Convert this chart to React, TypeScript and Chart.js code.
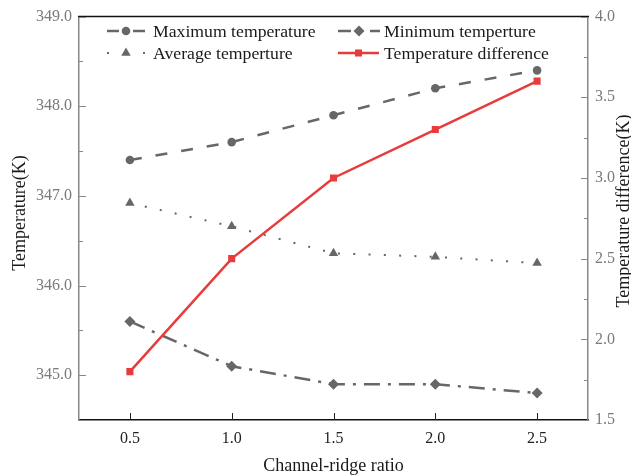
import React, { useEffect, useRef } from 'react';
import { Chart, registerables } from 'chart.js';

Chart.register(...registerables);

// ---- data ----
const ratios = [0.5, 1.0, 1.5, 2.0, 2.5];
const maxTemp = [347.4, 347.6, 347.9, 348.2, 348.4];
const minTemp = [345.6, 345.1, 344.9, 344.9, 344.8];
const avgTemp = [346.92, 346.66, 346.36, 346.32, 346.25];
const tempDiff = [1.8, 2.5, 3.0, 3.3, 3.6];

const seriesLabels = ['Maximum temperature', 'Minimum temperture', 'Average temperture', 'Temperature difference'];

const xTicks = [0.5, 1.0, 1.5, 2.0, 2.5];
const leftTicks = [345, 346, 347, 348, 349];
const leftMinorTicks = [344.5, 345.5, 346.5, 347.5, 348.5];
const rightTicks = [1.5, 2.0, 2.5, 3.0, 3.5, 4.0];
const rightMinorTicks = [1.75, 2.25, 2.75, 3.25, 3.75];

const xTitle = 'Channel-ridge ratio';
const yTitle = 'Temperature(K)';
const y1Title = 'Temperature difference(K)';

const FONT = '"Liberation Serif", "Times New Roman", serif';
const GRAY = '#676767';
const RED = '#e83b3b';

const toPts = (ys: number[]) => ratios.map((x, i) => ({ x, y: ys[i] }));

function drawMarker(ctx: CanvasRenderingContext2D, style: string, x: number, y: number, r: number, color: string) {
  ctx.save();
  ctx.fillStyle = color;
  ctx.beginPath();
  if (style === 'circle') {
    ctx.arc(x, y, r, 0, Math.PI * 2);
  } else if (style === 'rectRot') {
    ctx.moveTo(x, y - r);
    ctx.lineTo(x + r, y);
    ctx.lineTo(x, y + r);
    ctx.lineTo(x - r, y);
    ctx.closePath();
  } else if (style === 'triangle') {
    ctx.moveTo(x, y - r);
    ctx.lineTo(x + r * 0.866, y + r * 0.5);
    ctx.lineTo(x - r * 0.866, y + r * 0.5);
    ctx.closePath();
  } else {
    const s = r * 0.7071;
    ctx.rect(x - s, y - s, 2 * s, 2 * s);
  }
  ctx.fill();
  ctx.restore();
}

const decorPlugin = {
  id: 'decor',
  afterDraw(chart: any) {
    const { ctx, chartArea } = chart;
    const xs = chart.scales.x;
    const ys = chart.scales.y;
    const y1s = chart.scales.y1;
    const { left, right, top, bottom } = chartArea;
    ctx.save();

    // top border
    ctx.strokeStyle = '#111';
    ctx.lineWidth = 1.5;
    ctx.beginPath();
    ctx.moveTo(left - 1, top);
    ctx.lineTo(right + 1, top);
    ctx.stroke();

    // inward ticks
    ctx.lineWidth = 1;
    ctx.strokeStyle = '#888';
    const yTick = (vals: number[], len: number, scale: any, x0: number, dir: number) => {
      vals.forEach((v) => {
        const py = Math.round(scale.getPixelForValue(v)) + 0.5;
        ctx.beginPath();
        ctx.moveTo(x0, py);
        ctx.lineTo(x0 + dir * len, py);
        ctx.stroke();
      });
    };
    yTick(leftTicks, 7, ys, left, 1);
    yTick(leftMinorTicks, 4, ys, left, 1);
    yTick(rightTicks, 7, y1s, right, -1);
    yTick(rightMinorTicks, 4, y1s, right, -1);
    ctx.strokeStyle = '#222';
    xTicks.forEach((v) => {
      const px = Math.round(xs.getPixelForValue(v)) + 0.5;
      ctx.beginPath();
      ctx.moveTo(px, bottom);
      ctx.lineTo(px, bottom - 7);
      ctx.stroke();
    });

    // titles
    ctx.fillStyle = '#1a1a1a';
    ctx.font = `18px ${FONT}`;
    ctx.textAlign = 'center';
    ctx.textBaseline = 'middle';
    ctx.fillText(xTitle, (left + right) / 2, 466);
    ctx.save();
    ctx.translate(20, 213);
    ctx.rotate(-Math.PI / 2);
    ctx.fillText(yTitle, 0, 0);
    ctx.restore();
    ctx.save();
    ctx.translate(624, 211);
    ctx.rotate(-Math.PI / 2);
    ctx.fillText(y1Title, 0, 0);
    ctx.restore();

    // legend
    const items = [
      { ds: 0, col: 0, row: 0, x0: 107, x1: 145, dash: [12, 14] },
      { ds: 1, col: 1, row: 0, x0: 338, x1: 380, dash: [13, 19] },
      { ds: 2, col: 0, row: 1, x0: 107, x1: 145, dash: [2, 34] },
      { ds: 3, col: 1, row: 1, x0: 338, x1: 379, dash: [] },
    ];
    const rowY = [31, 53];
    const textX = [153, 384];
    ctx.font = `17.7px ${FONT}`;
    ctx.textAlign = 'left';
    ctx.textBaseline = 'middle';
    items.forEach((it) => {
      const d = chart.data.datasets[it.ds];
      const y = rowY[it.row];
      ctx.save();
      ctx.strokeStyle = d.borderColor;
      ctx.lineWidth = d.borderWidth;
      ctx.setLineDash(it.dash);
      ctx.beginPath();
      ctx.moveTo(it.x0, y);
      ctx.lineTo(it.x1, y);
      ctx.stroke();
      ctx.restore();
      drawMarker(ctx, d.pointStyle, (it.x0 + it.x1) / 2, y, d.pointRadius, d.pointBackgroundColor);
      ctx.fillStyle = '#1a1a1a';
      ctx.fillText(seriesLabels[it.ds], textX[it.col], y + 1);
    });

    ctx.restore();
  },
};

export default function App() {
  const ref = useRef<HTMLCanvasElement | null>(null);

  useEffect(() => {
    if (!ref.current) return;
    const tickFont = { family: FONT, size: 16 };
    const chart = new Chart(ref.current, {
      type: 'line',
      data: {
        datasets: [
          {
            label: seriesLabels[0],
            data: toPts(maxTemp),
            yAxisID: 'y',
            borderColor: GRAY,
            borderWidth: 2.5,
            borderDash: [12, 14],
            pointStyle: 'circle',
            pointRadius: 4.3,
            pointBackgroundColor: GRAY,
            pointBorderWidth: 0,
          },
          {
            label: seriesLabels[1],
            data: toPts(minTemp),
            yAxisID: 'y',
            borderColor: GRAY,
            borderWidth: 2.5,
            borderDash: [16, 8, 3, 8],
            pointStyle: 'rectRot',
            pointRadius: 5.5,
            pointBackgroundColor: GRAY,
            pointBorderWidth: 0,
          },
          {
            label: seriesLabels[2],
            data: toPts(avgTemp),
            yAxisID: 'y',
            borderColor: GRAY,
            borderWidth: 2,
            borderDash: [2, 13.3],
            pointStyle: 'triangle',
            pointRadius: 5.5,
            pointBackgroundColor: GRAY,
            pointBorderWidth: 0,
          },
          {
            label: seriesLabels[3],
            data: toPts(tempDiff),
            yAxisID: 'y1',
            borderColor: RED,
            borderWidth: 2.5,
            pointStyle: 'rect',
            pointRadius: 5,
            pointBackgroundColor: RED,
            pointBorderWidth: 0,
            order: -1,
          },
        ] as any,
      },
      options: {
        animation: false,
        responsive: false,
        layout: { padding: { top: 16, left: 0, right: 0, bottom: 0 } },
        plugins: { legend: { display: false }, tooltip: { enabled: false } },
        scales: {
          x: {
            type: 'linear',
            position: 'bottom',
            min: 0.25,
            max: 2.75,
            afterBuildTicks: (s: any) => { s.ticks = xTicks.map((v) => ({ value: v })); },
            afterFit: (s: any) => { s.height = 56; },
            ticks: { font: tickFont, color: '#222', padding: 9, maxRotation: 0, callback: (v: any) => Number(v).toFixed(1) },
            grid: { display: false, drawTicks: false },
            border: { color: '#111', width: 1.5 },
          },
          y: {
            type: 'linear',
            position: 'left',
            min: 344.5,
            max: 349,
            afterBuildTicks: (s: any) => { s.ticks = leftTicks.map((v) => ({ value: v })); },
            afterFit: (s: any) => { s.width = 79; },
            ticks: { font: tickFont, color: '#7a7a7a', padding: 7, callback: (v: any) => Number(v).toFixed(1) },
            grid: { display: false, drawTicks: false },
            border: { color: '#888', width: 1.5 },
          },
          y1: {
            type: 'linear',
            position: 'right',
            min: 1.5,
            max: 4.0,
            afterBuildTicks: (s: any) => { s.ticks = rightTicks.map((v) => ({ value: v })); },
            afterFit: (s: any) => { s.width = 43; },
            ticks: { font: tickFont, color: '#7a7a7a', padding: 7, callback: (v: any) => Number(v).toFixed(1) },
            grid: { display: false, drawTicks: false },
            border: { color: '#888', width: 1.5 },
          },
        },
      } as any,
      plugins: [decorPlugin],
    });
    return () => chart.destroy();
  }, []);

  return (
    <div style={{ position: 'fixed', left: 0, top: 0, width: 631, height: 476, background: '#fff' }}>
      <canvas ref={ref} width={631} height={476} style={{ display: 'block' }} />
    </div>
  );
}
